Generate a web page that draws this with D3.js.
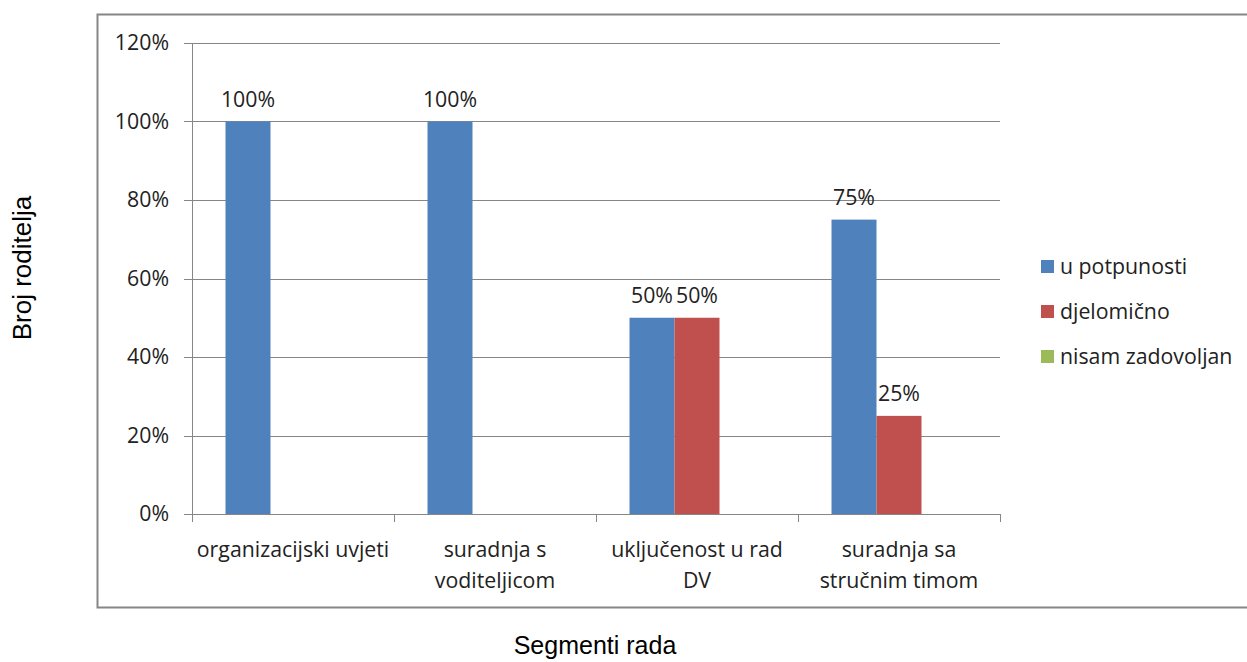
<!DOCTYPE html>
<html><head><meta charset="utf-8">
<script src="https://cdn.jsdelivr.net/npm/d3@7"></script>
<style>body{margin:0;background:#fff;} svg{display:block;}</style>
</head><body>
<script>
const categories = [["organizacijski uvjeti"], ["suradnja s", "voditeljicom"], ["uključenost u rad", "DV"], ["suradnja sa", "stručnim timom"]];
const seriesNames = ["u potpunosti", "djelomično", "nisam zadovoljan"];
const seriesColors = ["#4F81BD", "#C0504D", "#9BBB59"];
const uPotpunosti = [100, 100, 50, 75];
const djelomicno = [0, 0, 50, 25];
const nisamZadovoljan = [0, 0, 0, 0];
const yTicks = [0, 20, 40, 60, 80, 100, 120];

(function () {
const series = [uPotpunosti, djelomicno, nisamZadovoljan];
const W = 1247, H = 662;
const svg = d3.select("body").append("svg").attr("width", W).attr("height", H);
const font = "'Open Sans', Lato, sans-serif";
const fs = 21.3;

// outer chart border
svg.append("rect").attr("x", 97.5).attr("y", 14.5).attr("width", 1200).attr("height", 593)
  .attr("fill", "none").attr("stroke", "#868686").attr("stroke-width", 2);

const pL = 192, pR = 1000, pT = 43, pB = 514;
const x = d3.scaleBand().domain(d3.range(categories.length)).range([pL, pR]);
const y = d3.scaleLinear().domain([0, 120]).range([pB, pT]);
const barW = 45;
const inner = d3.scaleBand().domain(d3.range(series.length)).range([0, barW * series.length]);
const offset = (x.bandwidth() - barW * series.length) / 2;

// gridlines
svg.append("g").selectAll("line").data(yTicks).join("line")
  .attr("x1", pL - 8).attr("x2", pR)
  .attr("y1", d => Math.round(y(d)) + 0.5).attr("y2", d => Math.round(y(d)) + 0.5)
  .attr("stroke", "#868686").attr("stroke-width", 1);

// y axis line
svg.append("line").attr("x1", pL + 0.5).attr("x2", pL + 0.5).attr("y1", pT).attr("y2", pB)
  .attr("stroke", "#868686");

// y tick labels
svg.append("g").selectAll("text").data(yTicks).join("text")
  .attr("x", pL - 23).attr("y", d => y(d)).attr("dy", "0.35em")
  .attr("text-anchor", "end").attr("font-family", font).attr("font-size", fs).attr("fill", "#222")
  .text(d => d + "%");

// x ticks
const bounds = d3.range(categories.length + 1).map(i => pL + i * x.bandwidth());
svg.append("g").selectAll("line").data(bounds).join("line")
  .attr("x1", d => Math.round(d) + 0.5).attr("x2", d => Math.round(d) + 0.5)
  .attr("y1", pB).attr("y2", pB + 8).attr("stroke", "#868686");

// bars
series.forEach((vals, s) => {
  const pts = vals.map((v, i) => ({ v, i }));
  svg.append("g").selectAll("rect").data(pts).join("rect")
    .attr("x", d => x(d.i) + offset + inner(s))
    .attr("width", inner.bandwidth())
    .attr("y", d => y(d.v)).attr("height", d => pB - y(d.v))
    .attr("fill", seriesColors[s]);
  svg.append("g").selectAll("text").data(pts.filter(d => d.v > 0)).join("text")
    .attr("x", d => x(d.i) + offset + inner(s) + inner.bandwidth() / 2)
    .attr("y", d => y(d.v) - 15)
    .attr("text-anchor", "middle").attr("font-family", font).attr("font-size", fs).attr("fill", "#222")
    .text(d => d.v + "%");
});

// category labels
categories.forEach((lines, i) => {
  const cx = x(i) + x.bandwidth() / 2;
  const t = svg.append("text").attr("x", cx).attr("y", 557)
    .attr("text-anchor", "middle").attr("font-family", font).attr("font-size", fs).attr("fill", "#222");
  lines.forEach((l, j) => t.append("tspan").attr("x", cx).attr("dy", j === 0 ? 0 : 31).text(l));
});

// legend
seriesNames.forEach((n, i) => {
  const ly = 267 + i * 45;
  svg.append("rect").attr("x", 1041).attr("y", ly - 7).attr("width", 13).attr("height", 13).attr("fill", seriesColors[i]);
  svg.append("text").attr("x", 1060).attr("y", ly).attr("dy", "0.35em")
    .attr("font-family", font).attr("font-size", fs).attr("fill", "#222").text(n);
});

// axis titles
svg.append("text").attr("transform", "translate(31,268) rotate(-90)").attr("text-anchor", "middle")
  .attr("font-family", "'Liberation Sans', Arial, sans-serif").attr("font-size", 26).attr("fill", "#000").text("Broj roditelja");
svg.append("text").attr("x", 595).attr("y", 654).attr("text-anchor", "middle")
  .attr("font-family", "'Liberation Sans', Arial, sans-serif").attr("font-size", 25).attr("fill", "#000").text("Segmenti rada");
})();
</script>
</body></html>
